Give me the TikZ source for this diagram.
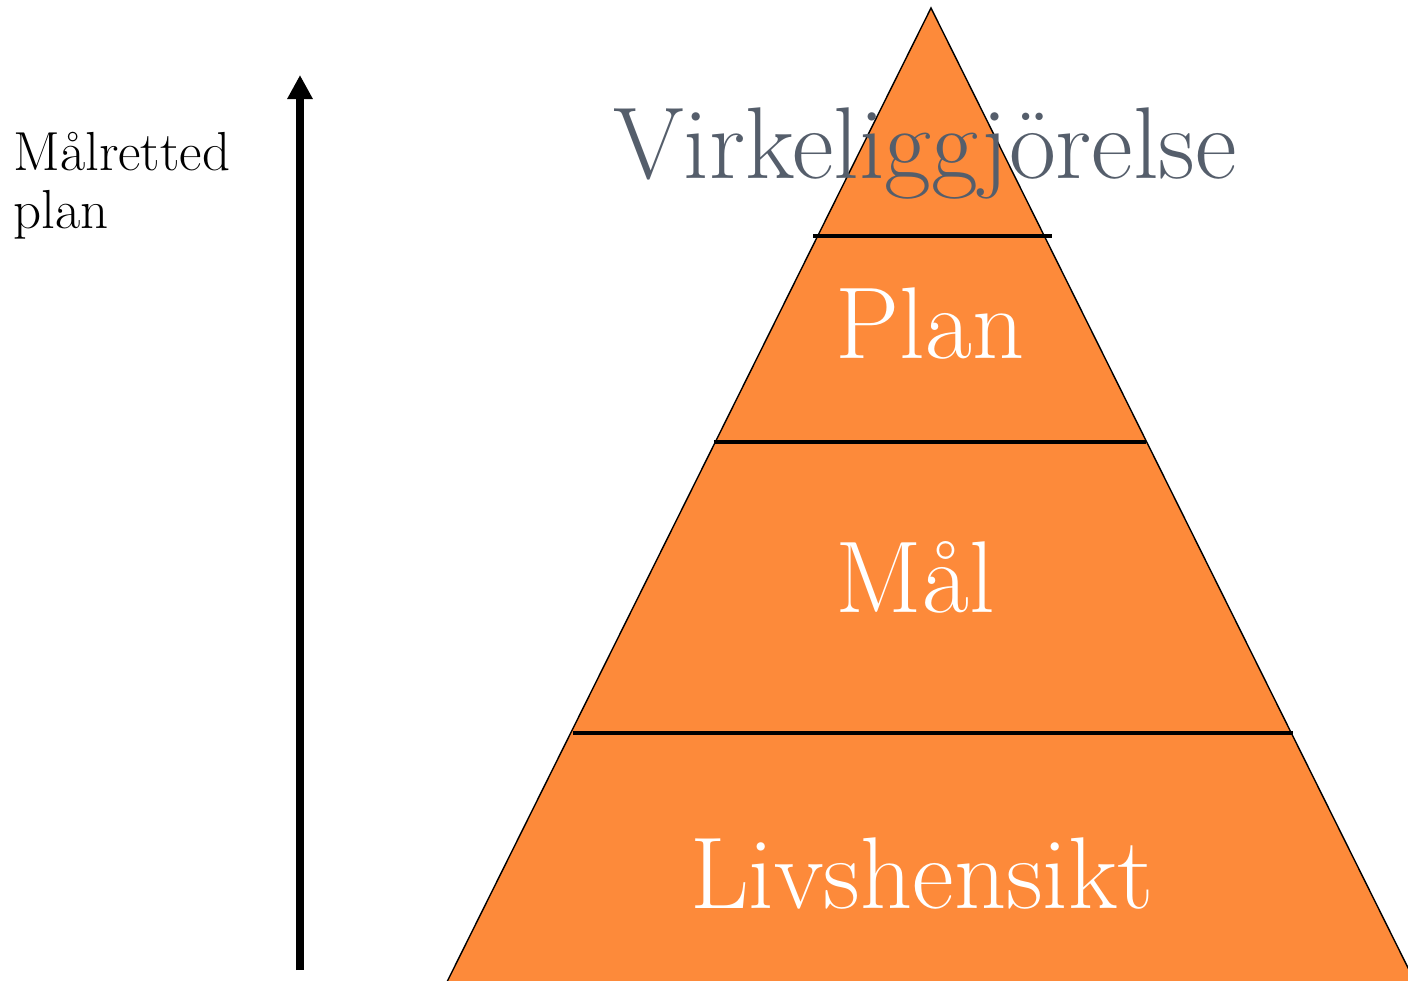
\documentclass[tikz,border=0pt]{standalone}
\usetikzlibrary{arrows.meta}

\definecolor{PyrOrange}{HTML}{FD8A3A}
\definecolor{TopGrey}{HTML}{555E6B}

\begin{document}
\begin{tikzpicture}[x=0.5pt, y=-0.5pt]

 \useasboundingbox (0,0) rectangle (1408,980);
 \clip (0,0) rectangle (1408,980);

 %%%%%%%%%% Points de la pyramide %%%%%%%%%%
 \coordinate (top) at (931,8);
 \coordinate (bl) at (438,1000);
 \coordinate (br) at (1424,1000);
 \coordinate (l1) at (813,236);
 \coordinate (r1) at (1052,236);
 \coordinate (l2) at (714,442);
 \coordinate (r2) at (1146,442);
 \coordinate (l3) at (573,733);
 \coordinate (r3) at (1293,733);
 \coordinate (foot) at (300,970);
 \coordinate (head) at (300,75);

 % Pyramid
 \filldraw[fill=PyrOrange, draw=black, line width=0.7] (top) -- (br) -- (bl) -- cycle ;

 % Levels
 \draw[color=black, line width=2] (l1) -- (r1) ;
 \draw[color=black, line width=2] (l2) -- (r2) ;
 \draw[color=black, line width=2] (l3) -- (r3) ;

 % Labels
 \node[anchor=base, color=TopGrey, font=\fontsize{51}{60}\selectfont] (virk) at (925,178) {Virkeliggjörelse} ;
 \node[anchor=base, color=white, font=\fontsize{51}{60}\selectfont] (plan) at (930,358) {Plan} ;
 \node[anchor=base, color=white, font=\fontsize{51}{60}\selectfont] (maal) at (915,612) {Mål} ;
 \node[anchor=base, color=white, font=\fontsize{51}{60}\selectfont] (livs) at (922,908) {Livshensikt} ;

 % Arrow
 \draw[-{Triangle[length=12pt, width=12pt]}, line width=4] (foot) -- (head) ;
 \node[anchor=base west, align=left, inner sep=0, font=\fontsize{27.5}{29}\selectfont] (malr) at (13,228) {Målretted\\plan} ;

\end{tikzpicture}
\end{document}
